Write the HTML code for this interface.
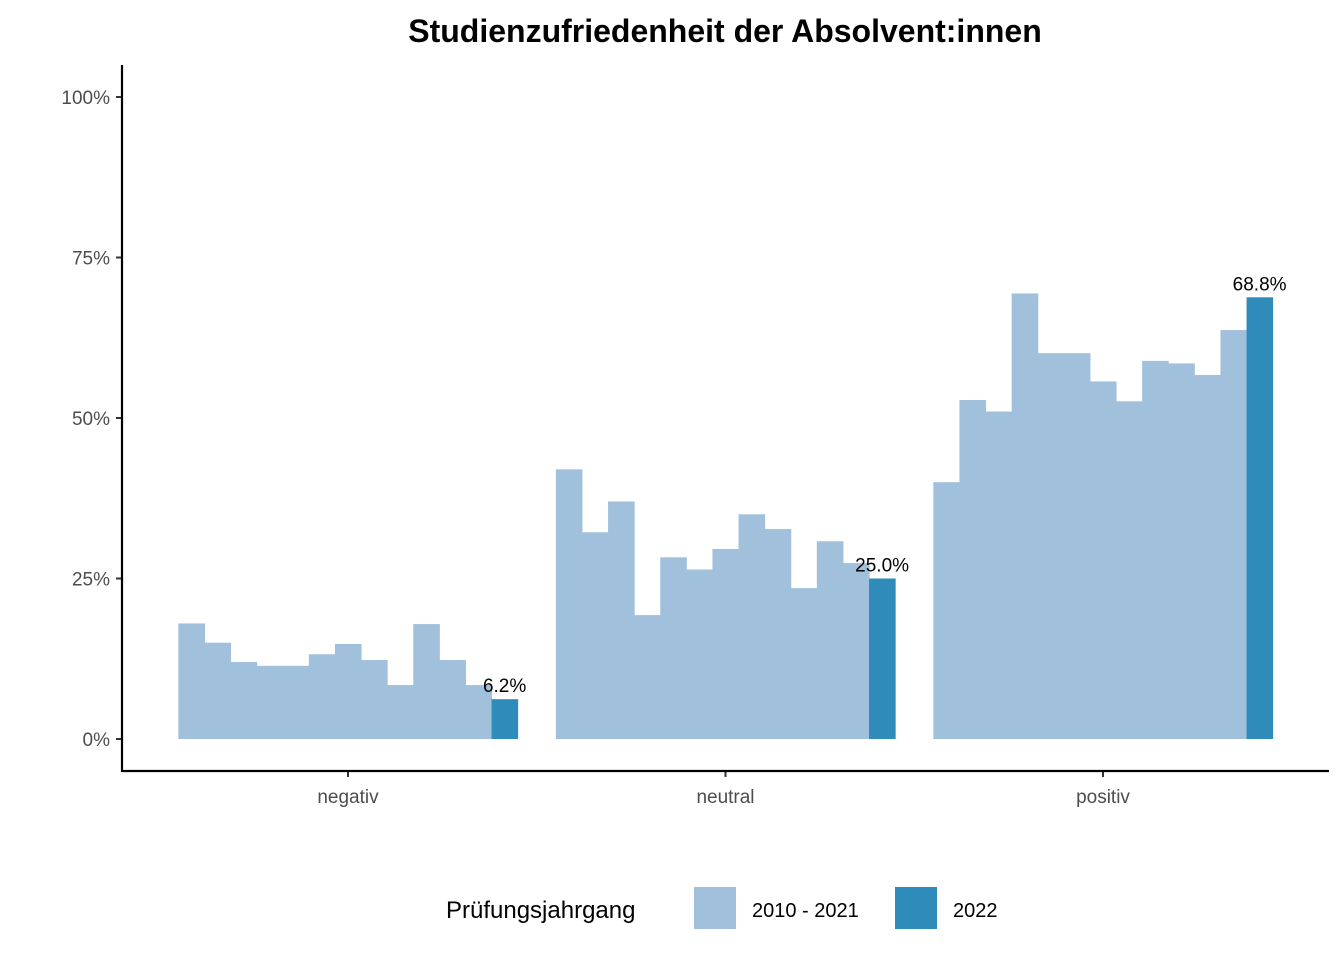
<!DOCTYPE html>
<html><head><meta charset="utf-8"><style>
body{margin:0;background:#fff;font-family:"Liberation Sans",Arial,sans-serif}
</style></head><body>
<svg id="chart" width="1344" height="960" xmlns="http://www.w3.org/2000/svg">
<text x="725" y="42" text-anchor="middle" font-size="32" font-weight="bold">Studienzufriedenheit der Absolvent:innen</text>
<g id="bars"></g>
<g id="axes"></g>
<g>
<text x="446" y="918" font-size="24">Prüfungsjahrgang</text>
<rect x="694" y="887" width="42" height="42" fill="#a0c0dc"/>
<text x="752" y="917" font-size="20">2010 - 2021</text>
<rect x="895" y="887" width="42" height="42" fill="#2f8bb9"/>
<text x="953" y="917" font-size="20">2022</text>
</g>
</svg>
<script>
const categories=["negativ","neutral","positiv"];
const negativValues=[18,15,12,11.4,11.4,13.2,14.8,12.3,8.4,17.9,12.3,8.4,6.2];
const neutralValues=[42,32.2,37,19.3,28.3,26.4,29.6,35,32.7,23.5,30.8,27.4,25];
const positivValues=[40,52.8,51,69.4,60.1,60.1,55.7,52.6,58.9,58.5,56.7,63.7,68.8];
const yTicks=[0,25,50,75,100];
const yTickLabels=["0%","25%","50%","75%","100%"];
const series=[negativValues,neutralValues,positivValues];
const NS="http://www.w3.org/2000/svg";
const y=v=>739-v*6.42;
const catX=i=>348+i*377.5;
const bw=26.1;
const bars=document.getElementById('bars');
const axes=document.getElementById('axes');
function mk(t,a,p){const e=document.createElementNS(NS,t);for(const k in a)e.setAttribute(k,a[k]);p.appendChild(e);return e;}
series.forEach((vals,ci)=>{
  const x0=catX(ci)-bw*vals.length/2+ (ci===0?0:0);
  vals.forEach((v,j)=>{
    const last=j===vals.length-1;
    const r=mk('rect',{x:x0+j*bw,y:y(v),width:bw+0.5,height:y(0)-y(v),fill:last?'#2f8bb9':'#a0c0dc'},bars);
    
    
    if(last){
      const t=mk('text',{x:x0+j*bw+bw/2,y:y(v)-7,'text-anchor':'middle','font-size':19},bars);
      t.textContent=v.toFixed(1)+'%';
      
      
    }
  });
  const tk=mk('line',{x1:catX(ci),x2:catX(ci),y1:771,y2:777,stroke:'#333','stroke-width':2},axes);
  
  
  const lt=mk('text',{x:catX(ci),y:803,'text-anchor':'middle','font-size':19,fill:'#4d4d4d'},axes);
  lt.textContent=categories[ci];
  
  
});
yTicks.forEach((v,i)=>{
  const tk=mk('line',{x1:116,x2:122,y1:y(v),y2:y(v),stroke:'#333','stroke-width':2},axes);
  
  
  const t=mk('text',{x:110,y:y(v)+7,'text-anchor':'end','font-size':19,fill:'#4d4d4d'},axes);
  t.textContent=yTickLabels[i];
  
  
});
const ya=mk('line',{x1:122,x2:122,y1:65,y2:772,stroke:'#000','stroke-width':2.2},axes);


const xa=mk('line',{x1:121,x2:1329,y1:771,y2:771,stroke:'#000','stroke-width':2.2},axes);


</script>
</body></html>
